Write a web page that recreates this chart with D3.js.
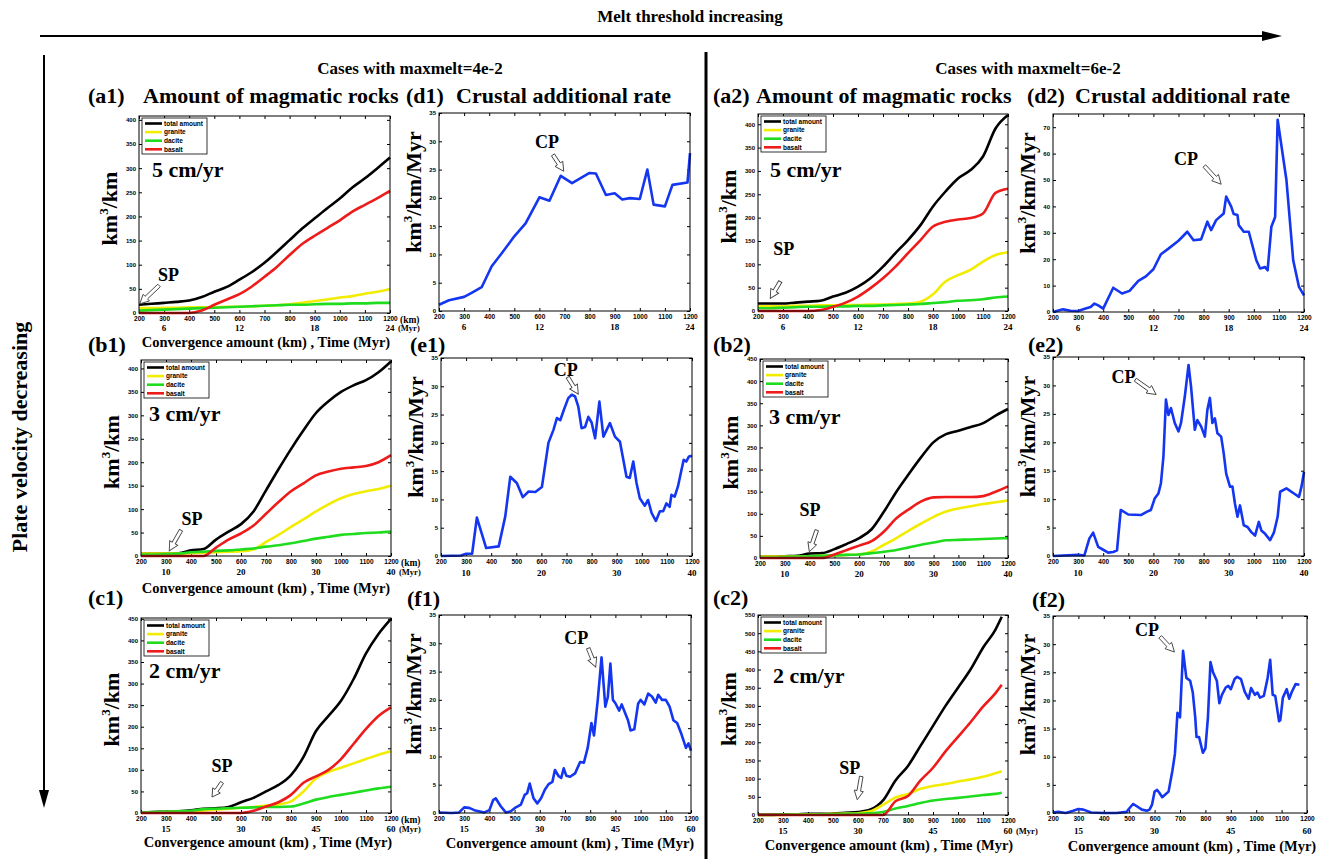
<!DOCTYPE html>
<html>
<head>
<meta charset="utf-8">
<script src="https://cdn.jsdelivr.net/npm/d3@7"></script>
<style>
  body { margin: 0; background: #fff; }
  svg text { font-family: "Liberation Serif", "Times New Roman", serif; font-weight: bold; }
</style>
</head>
<body>
<svg id="fig" width="1319" height="859"></svg>
<script>
// ---- shared axis values ----
const kmGrid = [200,250,300,350,400,450,500,550,600,650,700,750,800,850,900,950,1000,1050,1100,1150,1200];
const kmC2 = [200,250,300,350,400,450,500,550,600,650,700,750,800,850,900,950,1000,1050,1100,1150,1175];
const kmTicks = [200,300,400,500,600,700,800,900,1000,1100,1200];
const myrTickKm = [300,600,900,1200];
const myr5 = ['6','12','18','24'];
const myr3 = ['10','20','30','40'];
const myr2 = ['15','30','45','60'];
const rockNames = ['total amount','granite','dacite','basalt'];
const rockColors = ['#000000','#f2ec00','#1fdc1f','#ee1b1b'];

// ---- amount of magmatic rocks (km3/km) ----
const totalA1   = [17,19,21,23,26,33,44,54,69,85,104,127,151,175,196,217,237,260,279,300,322];
const graniteA1 = [10,10,11,11,12,12,12,13,13,14,15,16,18,21,25,28,32,35,40,44,49];
const daciteA1  = [5,6,7,8,9,10,11,12,13,14,15,16,17,17,18,19,19,20,20,21,21];
const basaltA1  = [0,0,0,0,0,5,17,28,39,55,75,96,120,143,160,176,192,210,224,238,253];

const totalA2   = [16,16,16,18,20,22,31,39,52,70,95,124,152,184,224,256,284,302,331,391,420];
const graniteA2 = [10,10,10,11,11,12,12,13,13,14,14,15,16,20,36,63,77,88,106,120,126];
const daciteA2  = [6,6,7,8,9,9,10,10,11,11,12,13,14,15,17,19,22,23,25,29,31];
const basaltA2  = [0,0,0,0,0,2,9,18,31,49,70,95,124,152,181,191,196,199,209,253,262];

const totalB1   = [5,5,5,6,12,15,35,52,68,95,140,185,228,268,305,330,350,364,375,392,415];
const graniteB1 = [5,5,5,5,6,7,8,9,10,14,30,45,62,78,95,110,123,132,138,143,150];
const daciteB1  = [3,3,4,5,8,9,11,12,14,16,20,23,27,32,37,41,45,47,49,50,52];
const basaltB1  = [0,0,0,0,0,0,18,35,48,65,90,115,138,155,172,180,186,189,192,200,215];

const totalB2   = [3,3,4,5,10,11,20,32,45,65,105,150,190,228,262,280,288,296,305,322,337];
const graniteB2 = [3,3,3,3,4,5,6,7,8,15,30,45,62,78,93,105,112,117,122,126,130];
const daciteB2  = [1,1,2,3,4,5,6,7,8,11,14,18,24,30,35,40,41,42,43,44,45];
const basaltB2  = [0,0,0,0,0,0,8,18,28,38,60,90,110,128,137,138,138,138,140,150,162];

const totalC1   = [1,2,3,4,6,10,11,14,25,35,50,65,88,130,190,225,260,310,370,415,450];
const graniteC1 = [0,1,2,3,4,6,8,10,12,14,17,20,27,50,80,95,105,115,125,135,143];
const daciteC1  = [1,2,3,4,5,9,10,11,12,13,14,14,15,22,31,37,42,47,52,57,61];
const basaltC1  = [0,0,0,0,0,0,0,0,0,5,15,25,42,70,85,100,125,160,195,225,245];

const totalC2   = [1,1,2,2,3,3,4,6,8,15,40,95,135,190,245,300,350,400,460,510,545];
const graniteC2 = [0,0,0,1,1,2,3,4,5,10,28,48,58,72,80,85,92,98,105,115,120];
const daciteC2  = [0,0,1,1,1,2,2,3,3,5,8,18,25,33,40,44,47,51,55,58,61];
const basaltC2  = [0,0,0,0,0,0,0,0,0,0,0,38,52,95,130,175,215,255,298,335,358];

// ---- crustal additional rate (km3/km/Myr) ----
const kmD1   = [200,240,300,330,370,410,450,500,545,600,640,685,730,800,825,865,900,930,960,1000,1030,1055,1100,1130,1190,1200];
const rateD1 = [1.1,1.9,2.5,3.2,4.2,7.9,10.2,13.2,15.5,20.1,19.5,23.9,22.6,24.4,24.3,20.5,20.8,19.7,19.95,19.8,25,18.8,18.5,22.3,22.7,27.9];

const kmD2   = [200,240,270,300,330,350,365,380,400,440,475,505,540,570,600,630,660,700,735,760,790,815,830,850,880,890,910,920,935,940,960,980,1010,1025,1045,1055,1070,1085,1095,1130,1157,1180,1200];
const rateD2 = [0,1.0,0.5,0.4,1.3,1.9,3.2,2.5,1.3,9.2,7.0,8.0,11.8,13.5,16.2,21.9,24,27,30.4,27.2,27.5,34.2,31,34.8,37.3,43.7,39.9,37.1,36.7,32.9,30.4,30.4,19.6,16.5,17,15.8,32.3,36,72.8,50,19.6,9.5,6.3];

const kmE1   = [200,280,300,324,343,380,430,456,476,502,526,549,576,602,628,648,662,675,690,707,721,734,747,760,774,787,800,814,831,847,860,873,893,913,939,952,966,979,992,1012,1025,1039,1056,1072,1085,1098,1111,1118,1131,1144,1158,1167,1177,1188,1200];
const rateE1 = [0,0.1,0.4,0.4,6.8,1.4,1.7,7,14,12.9,10.4,11.4,11.3,12.2,20,22.3,24.4,24,25.9,27.9,28.5,28.2,26.4,22.6,22.8,24.6,23.6,20.8,27.3,21.1,22.3,23.5,21.1,20.2,14,13.8,16.7,12.9,10.2,8.9,9.9,7.6,6.2,7.9,7.9,9.3,8.7,10.8,10.5,12.3,15.2,17,16.7,17.6,17.7];

const kmE2   = [200,300,325,345,360,380,400,420,440,455,470,500,550,575,590,605,620,630,640,650,660,670,685,700,710,725,740,750,765,775,790,805,815,825,835,845,855,870,880,890,905,915,925,935,945,960,975,990,1005,1020,1030,1045,1065,1080,1095,1105,1130,1160,1180,1190,1200];
const rateE2 = [0,0.2,0.1,3.1,4.1,1.6,1.1,0.6,0.7,1,8.1,7.3,7.2,7.8,8.1,10.1,11,12.8,17.5,27.5,24.8,26,23.4,21.9,23.4,28,33.6,29.8,22.2,23.9,22.8,21,25.7,27.8,23.4,24.2,21.6,21,18.1,14.5,12.2,12.2,9.2,6.9,8.9,5.4,5.1,4.2,3.6,6,4.5,3.9,2.8,4.1,6.9,11.3,11.9,11,10.4,12.2,14.8];

const kmF1   = [200,250,280,300,320,340,380,400,415,425,445,465,485,505,525,540,550,560,575,590,605,620,635,650,660,675,685,695,705,720,740,760,775,790,805,815,830,845,860,870,880,890,900,915,925,940,950,960,975,990,1000,1015,1030,1045,1060,1070,1085,1100,1115,1130,1145,1160,1180,1190,1200];
const rateF1 = [0.1,0,0.1,1.0,0.9,0.5,0.1,0.5,2.3,2.6,1.2,0.1,0.3,1.0,1.5,3.2,3.5,5.2,2.6,1.7,2.6,4.1,5.1,5.5,7.6,6.5,6.2,7.9,6.6,6.4,7,9,8.9,11.5,15.9,13.7,20,27.5,18.8,20.5,26.4,20,19.4,18.1,19.2,17.5,16.4,14.6,14.8,19.3,20,19.2,21.1,20.6,19.5,20.9,20,20,18.8,16.4,15.9,14.2,11.5,12.3,11];

const kmF2   = [200,220,250,280,300,320,350,400,450,490,500,515,530,550,570,580,590,600,610,620,630,640,655,670,680,690,700,705,712,725,740,750,760,765,775,790,800,810,820,830,845,855,865,880,890,900,915,925,940,955,970,980,995,1005,1015,1030,1045,1055,1065,1075,1090,1095,1105,1120,1130,1140,1155,1170];
const rateF2 = [0.1,0.2,0,0.4,0.7,0.6,0.1,0,0,0.2,0.8,1.6,1.2,0.6,0.4,0.6,1.5,3.8,4.1,3.5,2.8,3.2,3.8,7.5,10.5,17.8,17,22,28.8,24,23.5,21.5,17,13.5,13.5,10.7,11.5,17,26.8,25,23.5,19.5,21,22.3,22.6,22,23.8,24.2,23.8,21.5,20.3,22.2,21,21.4,20.5,20.8,24,27.2,21,20.8,16.3,16.5,20.5,22,20.3,21.5,22.9,22.8];

// ---- panel layout (pixel boxes, annotation anchors in data units) ----
const panels = [
  {kind:'rock', box:[139,116,390,313], ymax:408, ystep:50, km:kmGrid, series:[totalA1,graniteA1,daciteA1,basaltA1], myr:myr5, units:'both', speed:'5 cm/yr', spd:[13,61], myrY:18,
   note:{label:'SP', at:[318,78], tip:[203,19], tail:[280,57]}},
  {kind:'rate', box:[439,113,690,311], ymax:35, ystep:5, km:kmD1, rate:rateD1, myr:myr5, myrY:19,
   note:{label:'CP', at:[630,29.8], tip:[697,24.7], tail:[654,27.6]}},
  {kind:'rock', box:[758,114,1008,311], ymax:422, ystep:50, km:kmGrid, series:[totalA2,graniteA2,daciteA2,basaltA2], myr:myr5, speed:'5 cm/yr', spd:[12,63], myrY:19,
   note:{label:'SP', at:[303,132], tip:[249,27], tail:[289,63]}},
  {kind:'rate', box:[1053,114,1304,312], ymax:75, ystep:10, km:kmD2, rate:rateD2, myr:myr5, myrY:19,
   note:{label:'CP', at:[730,57.8], tip:[870,48.4], tail:[803,55.3]}},

  {kind:'rock', box:[141,360,391,556], ymax:418, ystep:50, km:kmGrid, series:[totalB1,graniteB1,daciteB1,basaltB1], myr:myr3, units:'both', speed:'3 cm/yr', spd:[8,61], myrY:19,
   note:{label:'SP', at:[404,78], tip:[313,11], tail:[360,55]}},
  {kind:'rate', box:[441,358,692,556], ymax:35, ystep:5, km:kmE1, rate:rateE1, myr:myr3, myrY:20,
   note:{label:'CP', at:[697,32.8], tip:[747,28.6], tail:[705,31.6]}},
  {kind:'rock', box:[760,359,1008,558], ymax:450, ystep:50, km:kmGrid, series:[totalB2,graniteB2,daciteB2,basaltB2], myr:myr3, speed:'3 cm/yr', spd:[9,65], myrY:19,
   note:{label:'SP', at:[402,108], tip:[399,14], tail:[429,63]}},
  {kind:'rate', box:[1053,357,1304,556], ymax:35, ystep:5, km:kmE2, rate:rateE2, myr:myr3, myrY:20,
   note:{label:'CP', at:[481,31.4], tip:[611,28.4], tail:[528,31]}},

  {kind:'rock', box:[141,618,391,813], ymax:452, ystep:50, km:kmGrid, series:[totalC1,graniteC1,daciteC1,basaltC1], myr:myr2, units:'both', speed:'2 cm/yr', spd:[8,60], myrY:19,
   note:{label:'SP', at:[524,108], tip:[484,37], tail:[524,71]}},
  {kind:'rate', box:[439,615,691,813], ymax:35, ystep:5, km:kmF1, rate:rateF1, myr:myr2, myrY:19,
   note:{label:'CP', at:[745,31], tip:[822,25.8], tail:[792,29.1]}},
  {kind:'rock', box:[758,615,1008,815], ymax:550, ystep:50, km:kmC2, series:[totalC2,graniteC2,daciteC2,basaltC2], myr:myr2, units:'myr', speed:'2 cm/yr', spd:[15,68], myrY:19,
   note:{label:'SP', at:[567,129], tip:[597,42], tail:[613,106]}},
  {kind:'rate', box:[1053,616,1307,813], ymax:35, ystep:5, km:kmF2, rate:rateF2, myr:myr2, myrY:21,
   note:{label:'CP', at:[570,32.5], tip:[678,28.6], tail:[622,31.3]}}
];

const svg = d3.select('#fig');

function hollowArrow(g, x1, y1, x2, y2) {
  const L = Math.hypot(x2 - x1, y2 - y1);
  const ang = Math.atan2(y2 - y1, x2 - x1) * 180 / Math.PI;
  const hl = Math.min(9, L * 0.45), sw = 1.8, hw = 4.6;
  const pts = [[0,-sw],[L-hl,-sw],[L-hl,-hw],[L,0],[L-hl,hw],[L-hl,sw],[0,sw]];
  g.append('polygon')
    .attr('points', pts.map(p => p.join(',')).join(' '))
    .attr('transform', `translate(${x1},${y1}) rotate(${ang})`)
    .attr('fill', '#fff').attr('stroke', '#444').attr('stroke-width', 0.9);
}

function styleTicks(sel, size) {
  sel.select('.domain').remove();
  sel.selectAll('text')
    .style('font-family', '"Liberation Sans", Arial, sans-serif')
    .style('font-size', size + 'px').style('font-weight', 'bold').attr('fill', '#000');
  sel.selectAll('line').attr('stroke', '#000');
}

panels.forEach(p => {
  const [x0, y0, x1, y1] = p.box, w = x1 - x0, h = y1 - y0;
  const x = d3.scaleLinear().domain([200, 1200]).range([0, w]);
  const y = d3.scaleLinear().domain([0, p.ymax]).range([h, 0]);
  const yTicks = d3.range(0, p.ymax + 1e-6, p.ystep);
  const g = svg.append('g').attr('transform', `translate(${x0},${y0})`);

  g.append('rect').attr('width', w).attr('height', h).attr('fill', '#fff');

  // axes, MATLAB style: inward ticks on all four sides
  g.append('g').attr('transform', `translate(0,${h})`)
    .call(d3.axisBottom(x).tickValues(kmTicks).tickSize(-3).tickPadding(3).tickFormat(d3.format('d')))
    .call(s => styleTicks(s, 6.5));
  g.append('g')
    .call(d3.axisTop(x).tickValues(kmTicks).tickSize(-3).tickFormat(''))
    .call(s => styleTicks(s, 6));
  g.append('g')
    .call(d3.axisLeft(y).tickValues(yTicks).tickSize(-3).tickPadding(3).tickFormat(d3.format('d')))
    .call(s => styleTicks(s, 6));
  g.append('g').attr('transform', `translate(${w},0)`)
    .call(d3.axisRight(y).tickValues(yTicks).tickSize(-3).tickFormat(''))
    .call(s => styleTicks(s, 6));

  // second row of labels: time in Myr
  g.selectAll('text.myr').data(myrTickKm).enter().append('text')
    .attr('class', 'myr')
    .attr('x', d => x(d)).attr('y', h + p.myrY)
    .attr('text-anchor', 'middle').style('font-size', '9px')
    .text((d, i) => p.myr[i]);
  if (p.units === 'both') {
    g.append('text').attr('x', x(1200) + 10).attr('y', h + 10).style('font-size', '9.5px').text('(km)');
  }
  if (p.units) {
    g.append('text').attr('x', x(1200) + 8).attr('y', h + p.myrY).style('font-size', '8.5px').text('(Myr)');
  }

  // data lines
  if (p.kind === 'rock') {
    p.series.forEach((vals, i) => {
      const line = d3.line().x((d, j) => x(p.km[j])).y(d => y(d)).curve(d3.curveMonotoneX);
      g.append('path').datum(vals).attr('d', line)
        .attr('fill', 'none').attr('stroke', rockColors[i])
        .attr('stroke-width', 2.6).attr('stroke-linejoin', 'round');
    });
  } else {
    const line = d3.line().x((d, j) => x(p.km[j])).y(d => y(d));
    g.append('path').datum(p.rate).attr('d', line)
      .attr('fill', 'none').attr('stroke', '#1436f0')
      .attr('stroke-width', 2.6).attr('stroke-linejoin', 'round');
  }

  g.append('rect').attr('width', w).attr('height', h)
    .attr('fill', 'none').attr('stroke', '#000').attr('stroke-width', 1);

  // y label
  const yl = g.append('text')
    .attr('transform', p.kind === 'rock'
      ? `translate(-22,${h / 2 - 6}) rotate(-90)`
      : `translate(-18,${h / 2 - 20}) rotate(-90)`)
    .attr('text-anchor', 'middle').style('font-size', '22px');
  yl.append('tspan').text('km');
  yl.append('tspan').attr('dy', -9).style('font-size', '13px').text('3');
  yl.append('tspan').attr('dy', 9).text(p.kind === 'rock' ? '/km' : '/km/Myr');

  // legend and speed label
  if (p.kind === 'rock') {
    const lg = g.append('g').attr('transform', 'translate(3,2)');
    lg.append('rect').attr('width', 65).attr('height', 36)
      .attr('fill', '#fff').attr('stroke', '#000').attr('stroke-width', 0.8);
    rockNames.forEach((n, i) => {
      const yy = 5.5 + i * 8.6;
      lg.append('line').attr('x1', 3).attr('x2', 20).attr('y1', yy).attr('y2', yy)
        .attr('stroke', rockColors[i]).attr('stroke-width', 2.6);
      lg.append('text').attr('x', 22).attr('y', yy + 2.3)
        .style('font-family', '"Liberation Sans", Arial, sans-serif')
        .style('font-size', '6.5px').text(n);
    });
    g.append('text').attr('x', p.spd[0]).attr('y', p.spd[1])
      .style('font-size', '22px').text(p.speed);
  }

  // SP / CP annotation
  const n = p.note;
  g.append('text').attr('x', x(n.at[0])).attr('y', y(n.at[1]))
    .attr('text-anchor', 'middle').attr('dominant-baseline', 'central')
    .style('font-size', '18px').text(n.label);
  hollowArrow(g, x(n.tail[0]), y(n.tail[1]), x(n.tip[0]), y(n.tip[1]));
});

// ---- titles ----
const titles = [
  ['(a1)', 88, 103], ['Amount of magmatic rocks', 143, 103],
  ['(d1)', 406, 103], ['Crustal additional rate', 456, 103],
  ['(a2)', 713, 103], ['Amount of magmatic rocks', 756, 103],
  ['(d2)', 1027, 103], ['Crustal additional rate', 1075, 103],
  ['(b1)', 88, 352], ['(e1)', 410, 352], ['(b2)', 713, 352], ['(e2)', 1028, 352],
  ['(c1)', 88, 605], ['(f1)', 407, 606], ['(c2)', 713, 605], ['(f2)', 1032, 607]
];
svg.selectAll('text.ptitle').data(titles).enter().append('text')
  .attr('class', 'ptitle').attr('x', d => d[1]).attr('y', d => d[2])
  .style('font-size', '22px').text(d => d[0]);

const xTitles = [[266, 347], [266, 593], [268, 847], [570, 848], [889, 850], [1192, 851]];
svg.selectAll('text.xtitle').data(xTitles).enter().append('text')
  .attr('class', 'xtitle').attr('x', d => d[0]).attr('y', d => d[1])
  .attr('text-anchor', 'middle').style('font-size', '14.5px')
  .text('Convergence amount (km) , Time (Myr)');

svg.append('text').attr('x', 410).attr('y', 74).attr('text-anchor', 'middle')
  .style('font-size', '17px').text('Cases with maxmelt=4e-2');
svg.append('text').attr('x', 1028).attr('y', 74).attr('text-anchor', 'middle')
  .style('font-size', '17px').text('Cases with maxmelt=6e-2');
svg.append('text').attr('x', 690).attr('y', 22).attr('text-anchor', 'middle')
  .style('font-size', '17px').text('Melt threshold increasing');
svg.append('text').attr('transform', 'translate(27,437) rotate(-90)').attr('text-anchor', 'middle')
  .style('font-size', '22px').text('Plate velocity decreasing');

// ---- direction arrows and divider ----
svg.append('line').attr('x1', 40).attr('x2', 1264).attr('y1', 36).attr('y2', 36)
  .attr('stroke', '#000').attr('stroke-width', 2);
svg.append('polygon').attr('points', '1262,31 1282,36 1262,41').attr('fill', '#000');
svg.append('line').attr('x1', 44).attr('x2', 44).attr('y1', 55).attr('y2', 792)
  .attr('stroke', '#000').attr('stroke-width', 2);
svg.append('polygon').attr('points', '39,790 44,808 49,790').attr('fill', '#000');
svg.append('line').attr('x1', 706).attr('x2', 706).attr('y1', 52).attr('y2', 859)
  .attr('stroke', '#000').attr('stroke-width', 3);
</script>
</body>
</html>
